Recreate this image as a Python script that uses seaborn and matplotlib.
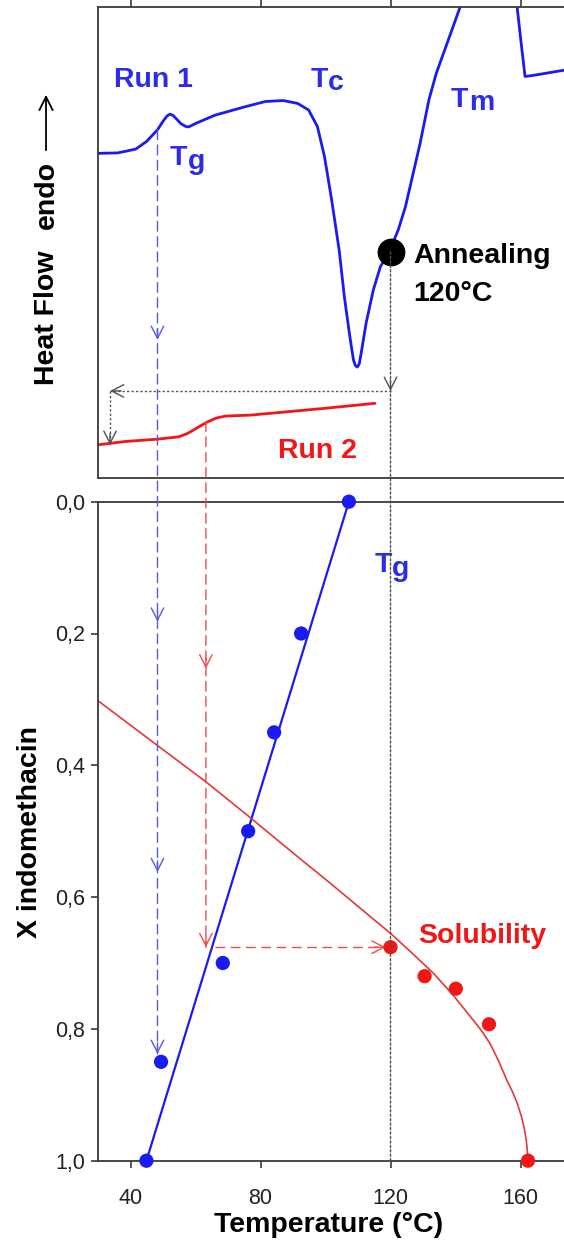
import numpy as np
import pandas as pd
import matplotlib
matplotlib.use("Agg")
import matplotlib.pyplot as plt
from matplotlib.patches import ConnectionPatch
import seaborn as sns

# ---------------- data ----------------
# DSC Run 1 (temperature in degC, heat flow in arbitrary units, endo up)
run1_T = [30, 36.1, 41.6, 44.9, 48.3, 50.0, 51.2, 52.1, 53.0, 54.0, 55.5, 57.0, 57.9, 59.9,
          66, 74.8, 81.5, 87, 91.4, 94.8, 97.5, 99.7, 101.9, 104.2, 105.8, 107.5, 108.6,
          109.2, 109.8, 110.4, 110.8, 112.5, 114.7, 116.9, 119.4, 122.4, 124.6, 129.1,
          131.8, 134.1, 137.4, 141.3, 142.5, 158.5, 159, 160.1, 161.4, 164.5, 172.2, 180]
run1_hf = [6.89, 6.90, 6.98, 7.14, 7.39, 7.57, 7.68, 7.72, 7.70, 7.63, 7.52, 7.46, 7.45, 7.52,
           7.70, 7.87, 7.99, 8.01, 7.95, 7.81, 7.46, 6.82, 5.90, 4.84, 3.85, 3.00, 2.51,
           2.39, 2.36, 2.43, 2.58, 3.29, 3.99, 4.49, 4.77, 5.27, 5.76, 7.10,
           8.02, 8.59, 9.22, 9.97, 10.6, 10.6, 9.97, 9.29, 8.52, 8.55, 8.64, 8.72]
# DSC Run 2
run2_T = [30, 38.3, 48.3, 54.9, 57.5, 59.3, 61.5, 63.8, 66.5, 69.3, 77, 88.1, 99.2, 115.2]
run2_hf = [0.71, 0.78, 0.83, 0.88, 0.95, 1.02, 1.11, 1.20, 1.28, 1.32, 1.34, 1.41, 1.48, 1.59]
anneal_T, anneal_hf = 120, 4.80

# Phase diagram: Tg points and fit
tg_T = [107.2, 92.5, 84.2, 76.2, 68.4, 49.4, 44.9]
tg_X = [0.0, 0.2, 0.35, 0.50, 0.70, 0.85, 1.0]
tg_fit_T = [44.9, 107.2]
tg_fit_X = [1.0, 0.0]
# Solubility points and curve
sol_T = [120, 130.5, 140.1, 150.3, 162.3]
sol_X = [0.676, 0.720, 0.739, 0.793, 1.0]
solc_T = [30, 48.3, 63.2, 77, 90, 100, 110, 120, 126.2, 133.3, 139.3, 145.5, 148.2, 150.6,
          153.2, 155.8, 157.5, 159.0, 160.3, 161.2, 161.8, 162.1, 162.3]
solc_X = [0.302, 0.37, 0.425, 0.48, 0.533, 0.573, 0.614, 0.655, 0.683, 0.716, 0.749,
          0.787, 0.804, 0.822, 0.848, 0.878, 0.895, 0.913, 0.933, 0.952, 0.970, 0.985, 1.0]

# construction lines
tg1_T, tg1_hf = 48.3, 7.39          # Tg on run 1
tg2_T, tg2_hf = 63.2, 1.20          # Tg on run 2
x_sol = 0.676
back_hf, back_T = 1.853, 33.7       # return arrow after annealing
blue_heads_hf = [2.935]
blue_heads_X = [0.182, 0.562, 0.838]
red_heads_X = [0.253, 0.676]
red_h_start = 66.0
red_h_end = 118.5

xticks = [40, 80, 120, 160]
xtick_labels = ["40", "80", "120", "160"]
yticks = [0.0, 0.2, 0.4, 0.6, 0.8, 1.0]
ytick_labels = ["0,0", "0,2", "0,4", "0,6", "0,8", "1,0"]

# ---------------- style ----------------
sns.set_theme(style="ticks")
plt.rcParams['font.family'] = ['Liberation Sans', 'DejaVu Sans']

BLUE = "#1a1af2"
BLUE_TXT = "#2b2be8"
BLUE_DASH = "#5858e6"
RED = "#f21616"
RED_LINE = "#e63838"
RED_DASH = "#f04a4a"
GREY = "#505050"
SPINE = "#3a3a3a"
BIG = 20.5
TICK = 15.5

W, H = 564, 1245
fig = plt.figure(figsize=(W / 100, H / 100), dpi=100)
fig.patch.set_facecolor("white")

def fx(px):
    return px / W

def fy(py):
    return 1 - py / H

XL = (30, 180)
axw = (XL[1] - XL[0]) * 3.25 / W
ax_top = fig.add_axes([fx(98), fy(478.3), axw, (478.3 - 6.7) / H])
ax_bot = fig.add_axes([fx(98), fy(1160.7), axw, (1160.7 - 501.7) / H])

for ax in (ax_top, ax_bot):
    ax.set_facecolor("white")
    for s in ax.spines.values():
        s.set_color(SPINE)
        s.set_linewidth(1.3)
    ax.set_xlim(*XL)

# ---------------- top: DSC ----------------
sns.lineplot(data=pd.DataFrame({"T": run1_T, "hf": run1_hf}), x="T", y="hf", ax=ax_top,
             sort=False, estimator=None, color=BLUE, lw=2.0)
sns.lineplot(data=pd.DataFrame({"T": run2_T, "hf": run2_hf}), x="T", y="hf", ax=ax_top,
             sort=False, estimator=None, color=RED, lw=2.0)
ax_top.plot([anneal_T], [anneal_hf], "o", color="black", ms=19, zorder=6)
ax_top.set_ylim(0, 10)
ax_top.set_xlabel("")
ax_top.set_ylabel("")
ax_top.set_yticks([])
ax_top.set_xticks(xticks)
ax_top.xaxis.tick_top()
ax_top.tick_params(axis="x", direction="out", length=5, width=1.2, color=SPINE,
                   top=True, bottom=False, labeltop=False, labelbottom=False)

# ---------------- bottom: phase diagram ----------------
sns.lineplot(data=pd.DataFrame({"T": tg_fit_T, "X": tg_fit_X}), x="T", y="X", ax=ax_bot,
             sort=False, estimator=None, color=BLUE, lw=1.6)
sns.lineplot(data=pd.DataFrame({"T": solc_T, "X": solc_X}), x="T", y="X", ax=ax_bot,
             sort=False, estimator=None, color=RED_LINE, lw=1.2)
sns.scatterplot(data=pd.DataFrame({"T": tg_T, "X": tg_X}), x="T", y="X", ax=ax_bot,
                color=BLUE, s=105, edgecolor="none", zorder=5, clip_on=False)
sns.scatterplot(data=pd.DataFrame({"T": sol_T, "X": sol_X}), x="T", y="X", ax=ax_bot,
                color=RED, s=105, edgecolor="none", zorder=5, clip_on=False)
ax_bot.set_ylim(1.0, 0.0)
ax_bot.set_yticks(yticks)
ax_bot.set_yticklabels(ytick_labels)
ax_bot.set_xticks(xticks)
ax_bot.set_xticklabels(xtick_labels)
ax_bot.tick_params(axis="y", direction="out", length=5, width=1.2, color=SPINE,
                   labelsize=TICK, pad=4, labelcolor="#222222")
ax_bot.tick_params(axis="x", direction="out", length=5, width=1.2, color=SPINE,
                   labelsize=TICK, pad=15, labelcolor="#222222")
ax_bot.set_xlabel("")
ax_bot.set_ylabel("")

# ---------------- construction lines ----------------
def head(ax, x, y, dx, dy, color):
    ax.annotate("", xy=(x, y), xytext=(-dx * 8, -dy * 8), textcoords="offset points",
                arrowprops=dict(arrowstyle="->,head_length=0.55,head_width=0.28",
                                color=color, lw=1.0, shrinkA=0, shrinkB=0,
                                mutation_scale=16),
                annotation_clip=False, zorder=4)

def link(xA, yA, axA, xB, yB, axB, color, ls, lw):
    con = ConnectionPatch(xyA=(xA, yA), coordsA=axA.transData,
                          xyB=(xB, yB), coordsB=axB.transData,
                          color=color, linestyle=ls, lw=lw, zorder=3)
    fig.add_artist(con)

DASH = (0, (7, 4))
DOT = (0, (1.6, 1.6))

# blue Tg run 1
link(tg1_T, tg1_hf, ax_top, tg1_T, blue_heads_X[-1], ax_bot, BLUE_DASH, DASH, 1.0)
for v in blue_heads_hf:
    head(ax_top, tg1_T, v, 0, -1, BLUE_DASH)
for v in blue_heads_X:
    head(ax_bot, tg1_T, v, 0, -1, BLUE_DASH)

# red Tg run 2
link(tg2_T, tg2_hf, ax_top, tg2_T, red_heads_X[-1], ax_bot, RED_DASH, DASH, 1.0)
for v in red_heads_X:
    head(ax_bot, tg2_T, v, 0, -1, RED_DASH)
ax_bot.plot([red_h_start, red_h_end], [x_sol, x_sol], color=RED_DASH, ls=DASH, lw=1.0)
head(ax_bot, red_h_end, x_sol, 1, 0, RED_DASH)

# annealing temperature
link(anneal_T, anneal_hf, ax_top, anneal_T, 1.0, ax_bot, GREY, DOT, 1.0)
head(ax_top, anneal_T, back_hf, 0, -1, GREY)
ax_top.plot([anneal_T, back_T], [back_hf, back_hf], color=GREY, ls=DOT, lw=1.0)
head(ax_top, back_T, back_hf, -1, 0, GREY)
ax_top.plot([back_T, back_T], [back_hf, run2_hf[0]], color=GREY, ls=DOT, lw=1.0)
head(ax_top, back_T, run2_hf[0], 0, -1, GREY)

# ---------------- texts ----------------
def tsub(ax, x, y, main, sub, color, dy=-2.5):
    t = ax.text(x, y, main, color=color, fontsize=BIG, fontweight="bold",
                ha="left", va="baseline")
    ax.annotate(sub, xy=(1, 0), xycoords=t, xytext=(0.5, dy), textcoords="offset points",
                color=color, fontsize=BIG, fontweight="bold", ha="left", va="bottom")

ax_top.text(35, 8.30, "Run 1", color=BLUE_TXT, fontsize=BIG, fontweight="bold",
            ha="left", va="baseline")
tsub(ax_top, 95.3, 8.30, "T", "c", BLUE_TXT)
tsub(ax_top, 138.5, 7.88, "T", "m", BLUE_TXT)
tsub(ax_top, 52.1, 6.64, "T", "g", BLUE_TXT)
ax_top.text(85.4, 0.43, "Run 2", color=RED, fontsize=BIG, fontweight="bold",
            ha="left", va="baseline")
ax_top.text(127.0, 4.57, "Annealing", color="black", fontsize=BIG, fontweight="bold",
            ha="left", va="baseline", clip_on=False)
ax_top.text(127.0, 3.75, "120°C", color="black", fontsize=BIG, fontweight="bold",
            ha="left", va="baseline")

tsub(ax_bot, 115.0, 0.107, "T", "g", BLUE_TXT)
ax_bot.text(128.6, 0.670, "Solubility", color=RED, fontsize=BIG, fontweight="bold",
            ha="left", va="baseline")

fig.text(fx(329), fy(1232), "Temperature (°C)", fontsize=BIG, fontweight="bold",
         ha="center", va="baseline", color="black")
fig.text(fx(30), fy(832), "X indomethacin", fontsize=BIG, fontweight="bold",
         ha="center", va="center", rotation=90, color="black")
fig.text(fx(47), fy(318), "Heat Flow", fontsize=BIG, fontweight="bold",
         ha="center", va="center", rotation=90, color="black")
fig.text(fx(47), fy(195), "endo", fontsize=BIG, fontweight="bold",
         ha="center", va="center", rotation=90, color="black")
fig.add_artist(matplotlib.patches.FancyArrowPatch(
    (fx(46), fy(153)), (fx(46), fy(92)), transform=fig.transFigure,
    arrowstyle="->,head_length=0.6,head_width=0.3", mutation_scale=16,
    color="black", lw=1.3))

fig.savefig("out.png", dpi=100, facecolor="white")
